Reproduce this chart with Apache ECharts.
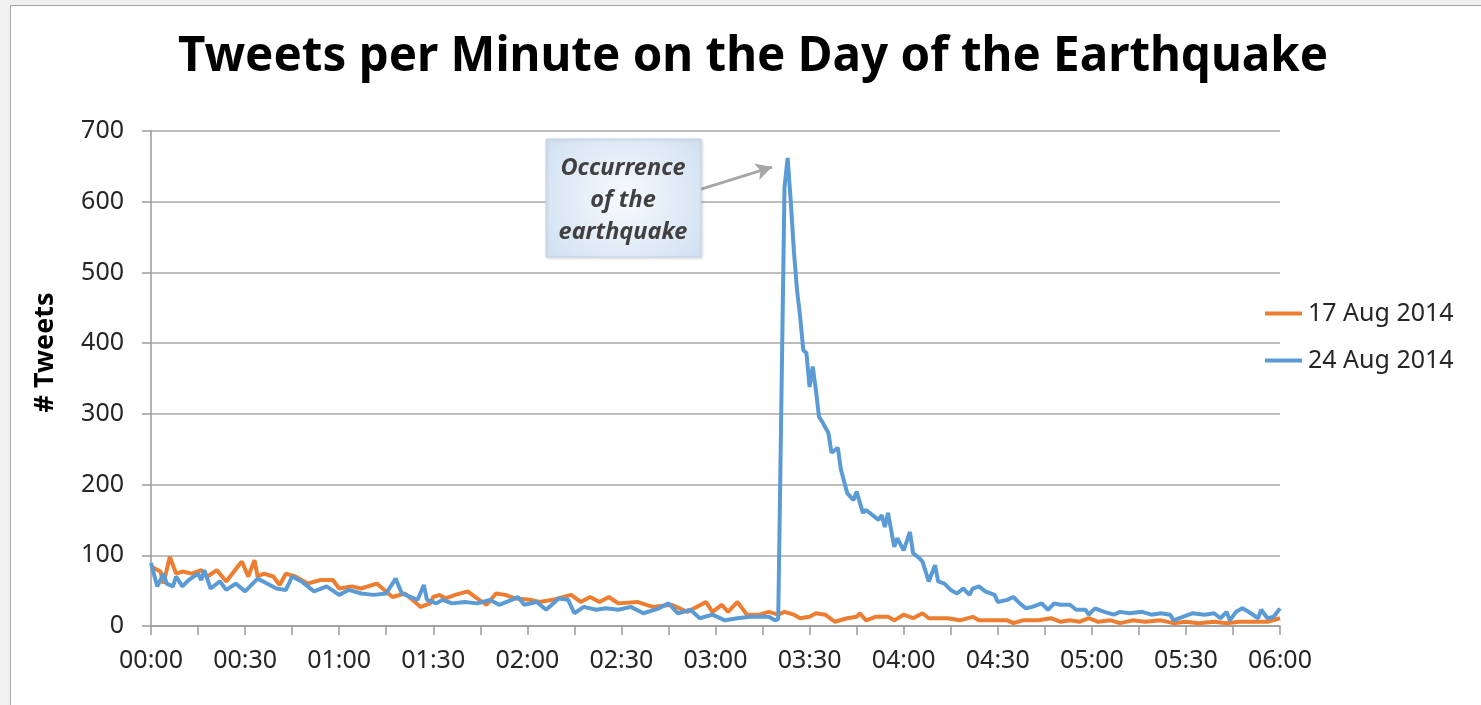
<!DOCTYPE html>
<html>
<head>
<meta charset="utf-8">
<title>Tweets per Minute on the Day of the Earthquake</title>
<script src="https://cdn.jsdelivr.net/npm/echarts@6/dist/echarts.min.js"></script>
<style>
  html, body { margin: 0; padding: 0; background: #f0f0f0; overflow: hidden; }
  #frame {
    position: absolute; left: 10px; top: 5px;
    width: 1471px; height: 700px;
    background: #fff;
    border-left: 1px solid #a6a6a6;
    border-top: 1px solid #a6a6a6;
  }
  #chart { width: 1470px; height: 699px; }
</style>
</head>
<body>
<div id="frame"><div id="chart"></div></div>
<script>
// minutes after 00:00, tweets per minute
const minutes17 = [0,3,4,6,8,10,13,16,18,21,24,28,29,31,33,34,36,39,41,43,46,50,54,58,60,64,67,72,77,81,86,89,90,92,94,97,101,104,107,110,113,116,121,124,128,134,137,140,143,146,149,155,160,166,171,177,179,182,184,187,190,194,197,200,202,205,207,210,212,215,218,222,225,226,228,231,235,237,240,243,246,248,254,258,262,264,269,273,275,278,280,283,287,290,293,296,299,302,306,309,313,317,322,326,330,334,339,343,347,351,356,360]
const tweets17 = [84,77,60,98,74,77,74,79,70,79,63,86,91,70,93,70,74,70,58,74,70,60,65,65,53,56,53,60,41,46,27,32,41,44,39,44,49,39,30,46,44,39,37,34,37,44,34,41,34,41,32,34,27,30,20,34,20,30,20,34,16,16,20,16,20,16,11,13,18,16,6,11,13,18,8,13,13,8,16,11,18,11,11,8,13,8,8,8,4,8,8,8,11,6,8,6,11,6,8,4,8,6,8,4,6,4,6,4,6,6,6,11]

const minutes24 = [0,2,4,5,7,8,10,12,15,16,17,19,22,24,27,30,34,37,40,43,45,48,52,56,60,63,67,71,75,78,80,85,87,88,91,93,96,100,104,108,111,115,117,119,123,126,130,133,135,138,142,145,149,153,157,162,165,168,172,175,179,183,187,191,197,199,200,202,203,204,205,206,207,208,209,210,211,212,213,214,216,217,219,220,222,224,225,227,228,232,233,234,235,237,238,240,242,243,245,246,248,250,251,253,255,257,259,261,262,264,266,269,270,273,275,277,279,281,284,286,288,290,293,295,298,299,301,304,307,309,312,316,319,322,325,326,329,332,336,339,341,343,344,346,348,350,353,354,356,358,360]
const tweets24 = [89,56,74,60,56,70,56,65,74,65,79,53,63,51,60,49,67,60,53,51,70,63,49,56,44,51,46,44,46,67,46,37,58,37,32,37,32,34,32,37,30,37,41,30,34,23,39,37,18,27,23,25,23,27,18,25,32,18,23,11,16,8,11,13,13,8,10,620,662,600,530,475,437,390,386,338,367,334,296,289,273,245,252,221,188,178,190,160,164,150,157,140,160,112,124,107,133,103,96,91,63,86,63,60,51,46,53,44,53,56,49,44,34,37,41,32,25,27,32,23,32,30,30,23,23,16,25,20,16,20,18,20,16,18,16,8,13,18,16,18,11,20,8,20,25,20,11,23,11,13,25]

const seriesNames = ['17 Aug 2014', '24 Aug 2014']
const yTicks = [0, 100, 200, 300, 400, 500, 600, 700]

// annotation arrow: from the note box to the peak (minute, tweets)
const arrowFrom = [169, 609]
const arrowTo = [198, 649]

const textColor = '#262626'
const axisColor = '#9a9a9a'

function toClock(m) {
  const h = Math.floor(m / 60)
  const mm = m % 60
  return String(h).padStart(2, '0') + ':' + String(mm).padStart(2, '0')
}

const chart = echarts.init(document.getElementById('chart'))

const option = {
  animation: false,
  backgroundColor: '#fff',
  textStyle: { fontFamily: 'Noto Sans', color: textColor },
  title: {
    text: 'Tweets per Minute on the Day of the Earthquake',
    left: 167,
    top: 27,
    padding: 0,
    textStyle: {
      fontFamily: 'Noto Sans',
      fontSize: 47.5,
      fontWeight: 'bold',
      color: '#000'
    }
  },
  legend: {
    orient: 'vertical',
    left: 1249,
    top: 290,
    icon: 'rect',
    itemWidth: 37,
    itemHeight: 4,
    itemGap: 22,
    data: seriesNames,
    textStyle: { fontSize: 25, color: textColor, padding: [0, 0, 0, 1] }
  },
  grid: { left: 140, right: 201, top: 125, bottom: 79 },
  xAxis: {
    type: 'value',
    min: 0,
    max: 360,
    interval: 15,
    axisLine: { lineStyle: { color: axisColor, width: 1.5 } },
    axisTick: { show: true, length: 9, lineStyle: { color: axisColor, width: 1.5 } },
    splitLine: { show: false },
    axisLabel: {
      fontSize: 25,
      color: textColor,
      margin: 22,
      formatter: v => (v % 30 === 0 ? toClock(v) : '')
    }
  },
  yAxis: {
    type: 'value',
    min: yTicks[0],
    max: yTicks[yTicks.length - 1],
    interval: 100,
    name: '# Tweets',
    nameLocation: 'middle',
    nameRotate: 90,
    nameGap: 92,
    nameTextStyle: { fontSize: 27, fontWeight: 'bold', color: '#000', padding: [0, 0, 0, 52] },
    axisLine: { show: true, lineStyle: { color: axisColor, width: 1.5 } },
    axisTick: { show: true, length: 9, lineStyle: { color: axisColor, width: 1.5 } },
    splitLine: { lineStyle: { color: '#a8a8a8', width: 1.5 } },
    axisLabel: { fontSize: 25, color: textColor, margin: 27 }
  },
  series: [
    {
      name: seriesNames[0],
      type: 'line',
      data: minutes17.map((m, i) => [m, tweets17[i]]),
      symbol: 'none',
      color: '#ED7D31',
      lineStyle: { color: '#ED7D31', width: 4 }
    },
    {
      name: seriesNames[1],
      type: 'line',
      data: minutes24.map((m, i) => [m, tweets24[i]]),
      symbol: 'none',
      color: '#5B9BD5',
      lineStyle: { color: '#5B9BD5', width: 4 },
      markLine: {
        silent: true,
        symbol: ['none', 'arrow'],
        symbolSize: [13, 16],
        label: { show: false },
        lineStyle: { color: '#a6a6a6', width: 3, type: 'solid' },
        data: [[{ coord: arrowFrom }, { coord: arrowTo }]]
      }
    }
  ],
  graphic: [
    {
      type: 'rect',
      shape: { x: 535, y: 133, width: 155, height: 118 },
      style: {
        fill: new echarts.graphic.RadialGradient(0.5, 0.5, 0.75, [
          { offset: 0, color: '#f7fafd' },
          { offset: 1, color: '#d3e2f2' }
        ]),
        stroke: '#c5d5e8',
        lineWidth: 1,
        shadowBlur: 3,
        shadowColor: 'rgba(0,0,0,0.15)',
        shadowOffsetX: 1,
        shadowOffsetY: 1
      },
      z: 10
    },
    {
      type: 'text',
      x: 612,
      y: 194,
      style: {
        text: 'Occurrence\nof the\nearthquake',
        fontFamily: 'Noto Sans',
        fontSize: 23.5,
        fontWeight: 'bold',
        fontStyle: 'italic',
        lineHeight: 32,
        fill: '#404040',
        align: 'center',
        verticalAlign: 'middle'
      },
      z: 11
    }
  ]
}

chart.setOption(option)
</script>
</body>
</html>
